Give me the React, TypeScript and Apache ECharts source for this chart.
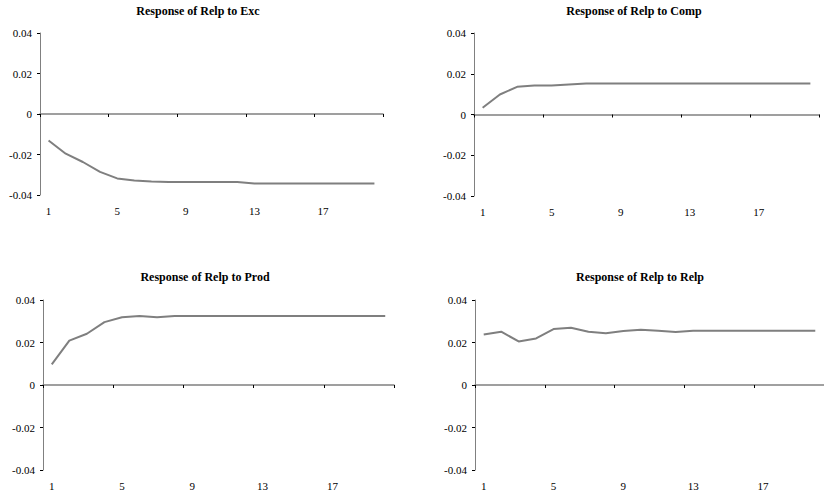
import React, { useEffect, useRef } from "react";
import * as echarts from "echarts";

const periods: string[] = Array.from({ length: 20 }, (_, i) => String(i + 1));
const yTicks = [-0.04, -0.02, 0, 0.02, 0.04];

const titles = [
  "Response of Relp to Exc",
  "Response of Relp to Comp",
  "Response of Relp to Prod",
  "Response of Relp to Relp",
];

const excResp = [
  -0.0131, -0.0196, -0.0237, -0.0286, -0.0318, -0.0328, -0.0333, -0.0336, -0.0336, -0.0336,
  -0.0336, -0.0336, -0.0343, -0.0343, -0.0343, -0.0343, -0.0343, -0.0343, -0.0343, -0.0343,
];
const compResp = [
  0.0033, 0.0098, 0.0136, 0.0142, 0.0142, 0.0147, 0.0152, 0.0152, 0.0152, 0.0152,
  0.0152, 0.0152, 0.0152, 0.0152, 0.0152, 0.0152, 0.0152, 0.0152, 0.0152, 0.0152,
];
const prodResp = [
  0.0097, 0.0209, 0.0241, 0.0296, 0.0319, 0.0325, 0.0319, 0.0325, 0.0325, 0.0325,
  0.0325, 0.0325, 0.0325, 0.0325, 0.0325, 0.0325, 0.0325, 0.0325, 0.0325, 0.0325,
];
const relpResp = [
  0.0238, 0.0251, 0.0205, 0.0219, 0.0263, 0.0269, 0.0251, 0.0244, 0.0254, 0.026,
  0.0255, 0.0249, 0.0255, 0.0255, 0.0255, 0.0255, 0.0255, 0.0255, 0.0255, 0.0255,
];
const allSeries = [excResp, compResp, prodResp, relpResp];

// panel layout (pixels)
const grids = [
  { left: 40, top: 33, width: 343, height: 162 },
  { left: 474, top: 33, width: 345, height: 163 },
  { left: 43, top: 300, width: 351, height: 170 },
  { left: 475, top: 300, width: 357, height: 170 },
];
const titlePos = [
  { cx: 198, cy: 12 },
  { cx: 634, cy: 12 },
  { cx: 205, cy: 278 },
  { cx: 640, cy: 278 },
];

const FONT = "'Liberation Serif', 'Times New Roman', serif";

export default function App() {
  const ref = useRef<HTMLDivElement>(null);
  useEffect(() => {
    if (!ref.current) return;
    const chart = echarts.init(ref.current, undefined, { renderer: "svg" });
    const xAxis: any[] = [];
    const yAxis: any[] = [];
    const series: any[] = [];
    const title: any[] = [];
    grids.forEach((g, i) => {
      title.push({
        text: titles[i],
        left: titlePos[i].cx,
        top: titlePos[i].cy - 7,
        padding: 0,
        textAlign: "center",
        textStyle: {
          fontFamily: FONT,
          fontSize: 12,
          fontWeight: "bold",
          color: "#000",
        },
      });
      xAxis.push({
        type: "category",
        gridIndex: i,
        data: periods,
        boundaryGap: true,
        position: "bottom",
        axisLine: { onZero: true, lineStyle: { color: "#808080", width: 1.5 } },
        axisTick: { show: true, interval: 3, length: 3, inside: false, lineStyle: { color: "#000" } },
        axisLabel: { show: false },
        splitLine: { show: false },
      });
      xAxis.push({
        type: "category",
        gridIndex: i,
        data: periods,
        boundaryGap: true,
        position: "bottom",
        axisLine: { show: false, onZero: false },
        axisTick: { show: false },
        axisLabel: {
          show: true,
          interval: 3,
          margin: 10,
          fontFamily: FONT,
          fontSize: 11,
          color: "#000",
        },
        splitLine: { show: false },
      });
      yAxis.push({
        type: "value",
        gridIndex: i,
        min: yTicks[0],
        max: yTicks[yTicks.length - 1],
        interval: 0.02,
        axisLine: { show: true, lineStyle: { color: "#808080", width: 1 } },
        axisTick: { show: true, length: 3, lineStyle: { color: "#000" } },
        axisLabel: {
          margin: 8,
          fontFamily: FONT,
          fontSize: 11,
          color: "#000",
          formatter: (v: number) => (Math.abs(v) < 1e-9 ? "0" : v.toFixed(2)),
        },
        splitLine: { show: false },
      });
      series.push({
        type: "line",
        xAxisIndex: i * 2,
        yAxisIndex: i,
        data: allSeries[i],
        showSymbol: false,
        symbol: "none",
        lineStyle: { color: "#7f7f7f", width: 2 },
      });
    });
    chart.setOption({
      animation: false,
      backgroundColor: "#fff",
      title,
      grid: grids.map((g) => ({ ...g, containLabel: false })),
      xAxis,
      yAxis,
      series,
    });
    return () => chart.dispose();
  }, []);
  return (
    <div
      ref={ref}
      style={{ position: "absolute", left: 0, top: 0, width: 824, height: 495 }}
    />
  );
}
